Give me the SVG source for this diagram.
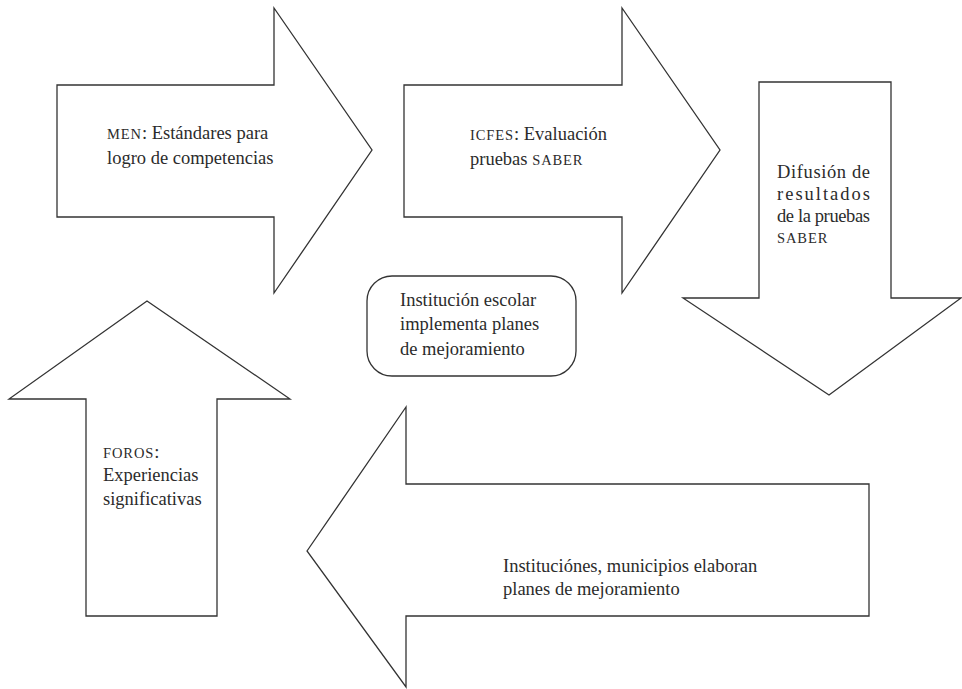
<svg xmlns="http://www.w3.org/2000/svg" width="962" height="689" viewBox="0 0 962 689">
<style>
.shape{fill:#fff;stroke:#333;stroke-width:1.3;stroke-linejoin:miter}
.t{font-family:"Liberation Serif","Times New Roman",serif;font-size:18.5px;fill:#2b2b2b}
.sc{font-size:14.5px;letter-spacing:0.9px}
</style>
<rect width="962" height="689" fill="#fff"/>
<g id="connectors"></g>
<g id="node-men">
<polygon class="shape" points="57,85 274,85 274,8 372,150 274,293 274,217 57,217"/>
<text class="t" x="107" y="139"><tspan class="sc">MEN</tspan>: Estándares para</text>
<text class="t" x="107" y="164">logro de competencias</text>
</g>
<g id="node-icfes">
<polygon class="shape" points="404,85 622,85 622,8 720,150 622,293 622,217 404,217"/>
<text class="t" x="470" y="140"><tspan class="sc">ICFES</tspan>: Evaluación</text>
<text class="t" x="470" y="165">pruebas <tspan class="sc">SABER</tspan></text>
</g>
<g id="node-difusion">
<polygon class="shape" points="759,82 891,82 891,298 961,298 829,395 683,298 759,298"/>
<text class="t" x="777" y="178" textLength="93" lengthAdjust="spacing">Difusión de</text>
<text class="t" x="777" y="200" textLength="93" lengthAdjust="spacing">resultados</text>
<text class="t" x="777" y="222" textLength="93" lengthAdjust="spacing">de la pruebas</text>
<text class="t" x="777" y="243"><tspan class="sc">SABER</tspan></text>
</g>
<g id="node-instituciones">
<polygon class="shape" points="307,551 406,407 406,484 869,484 869,616 406,616 406,687"/>
<text class="t" x="503" y="572">Instituciónes, municipios elaboran</text>
<text class="t" x="503" y="595">planes de mejoramiento</text>
</g>
<g id="node-foros">
<polygon class="shape" points="147,301 290,399 217,399 217,616 86,616 86,399 9,399"/>
<text class="t" x="103" y="458"><tspan class="sc">FOROS</tspan>:</text>
<text class="t" x="103" y="481">Experiencias</text>
<text class="t" x="103" y="505">significativas</text>
</g>
<g id="node-escolar">
<rect class="shape" x="367" y="276" width="209" height="100" rx="25" ry="25"/>
<text class="t" x="400" y="306">Institución escolar</text>
<text class="t" x="400" y="330">implementa planes</text>
<text class="t" x="400" y="355">de mejoramiento</text>
</g>
</svg>
